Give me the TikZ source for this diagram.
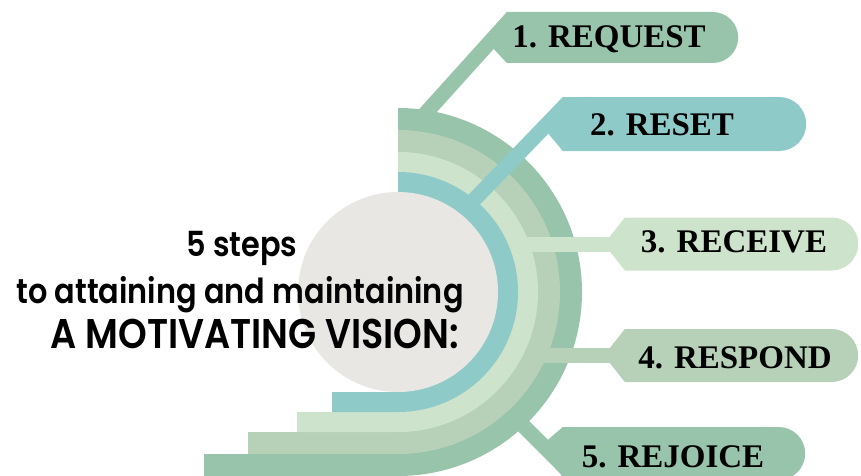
\documentclass[tikz,border=0pt]{standalone}
\usepackage{fontspec}
\setmainfont{Liberation Serif}
\IfFontExistsTF{Poppins SemiBold}
  {\newfontfamily\titlefont[FakeStretch=0.88]{Poppins SemiBold}}
  {\IfFontExistsTF{Poppins Medium}
    {\newfontfamily\titlefont[FakeStretch=0.88]{Poppins Medium}}
    {\newfontfamily\titlefont[FakeStretch=0.88]{Poppins}}}
\usetikzlibrary{shapes.misc}
\definecolor{stepdark}{HTML}{97C4AB}
\definecolor{stepmid}{HTML}{B6D1B8}
\definecolor{steplight}{HTML}{CEE3CC}
\definecolor{stepteal}{HTML}{8ECBC8}
\definecolor{stepgrey}{HTML}{E9E7E4}
\begin{document}
\begin{tikzpicture}[x=1pt,y=1pt,
    tag/.style={rounded rectangle, rounded rectangle left arc=none,
      minimum height=53pt, inner sep=0pt, anchor=west},
    link/.style={line width=15pt},
    word/.style={font=\fontsize{33}{33}\selectfont\bfseries, anchor=base},
    title/.style={font=\titlefont\fontsize{34.5}{35}\selectfont, anchor=base}]
  \useasboundingbox (0,0) rectangle (861,475);
  \coordinate (c) at (398,183);
  % rings, outermost first
  \foreach \ro/\ri/\xl/\col in {184/162/204/stepdark,162/140/248/stepmid,140/120/297/steplight,120/100/332/stepteal}
    \fill[\col] (398,183+\ro) arc[start angle=90,end angle=-90,radius=\ro]
      -- (\xl,183-\ro) -- (\xl,183-\ri) -- (398,183-\ri) -- cycle;
  \fill[stepgrey] (c) circle[radius=100];

  % tags
  \node[tag, fill=stepdark, minimum width=231, minimum height=51] (b1) at (507,437.5) {};
  \node[tag, fill=stepteal, minimum width=243, minimum height=54] (b2) at (563,351) {};
  \node[tag, fill=steplight, minimum width=233] (b3) at (625,231) {};
  \node[tag, fill=stepmid, minimum width=233] (b4) at (625,119.5) {};
  \node[tag, fill=stepdark, minimum width=242] (b5) at (563,21.5) {};

  % links from the rings
  \coordinate (a1) at (424,360);
  \coordinate (a2) at (471,272);
  \coordinate (a3) at (522,231);
  \coordinate (a4) at (539,119.5);
  \coordinate (a5) at (520,52.5);
  \draw[link, stepdark] (a1) -- ([shift={(5.6,-5)}]b1.north west);
  \draw[link, stepteal] (a2) -- ([shift={(5.4,-5.2)}]b2.north west);
  \draw[link, steplight] (a3) -- ([xshift=5pt]b3.west);
  \draw[link, stepmid] (a4) -- ([xshift=5pt]b4.west);
  \draw[link, stepdark] (a5) -- ([shift={(12,2.5)}]b5.south west);
  \fill[stepdark] (b1.north west) -- (b1.south west) -- ([shift={(-14,15)}]b1.south west) -- cycle;
  \fill[stepteal] (b2.north west) -- (b2.south west) -- ([shift={(-15,18)}]b2.south west) -- cycle;
  \fill[steplight] (b3.north west) -- ([shift={(-15,-19)}]b3.north west) -- ([shift={(-15,19)}]b3.south west) -- (b3.south west) -- cycle;
  \fill[stepmid] (b4.north west) -- ([shift={(-15,-19)}]b4.north west) -- ([shift={(-15,19)}]b4.south west) -- (b4.south west) -- cycle;
  \fill[stepdark] (b5.north west) -- ([shift={(-15,-13)}]b5.north west) -- (b5.south west) -- cycle;

  \node[word] (request) at (609,427) {1. REQUEST};
  \node[word] (reset) at (662,340) {2. RESET};
  \node[word] (receive) at (734,223) {3. RECEIVE};
  \node[word] (respond) at (735,107) {4. RESPOND};
  \node[word] (rejoice) at (673,8) {5. REJOICE};

  \node[title] (steps) at (242,219) {5 steps};
  \node[title] (attain) at (240,172) {to attaining and maintaining};
  \node[title, font=\titlefont\fontsize{41.5}{42}\selectfont] (vision) at (255,127) {A MOTIVATING VISION:};
\end{tikzpicture}
\end{document}
